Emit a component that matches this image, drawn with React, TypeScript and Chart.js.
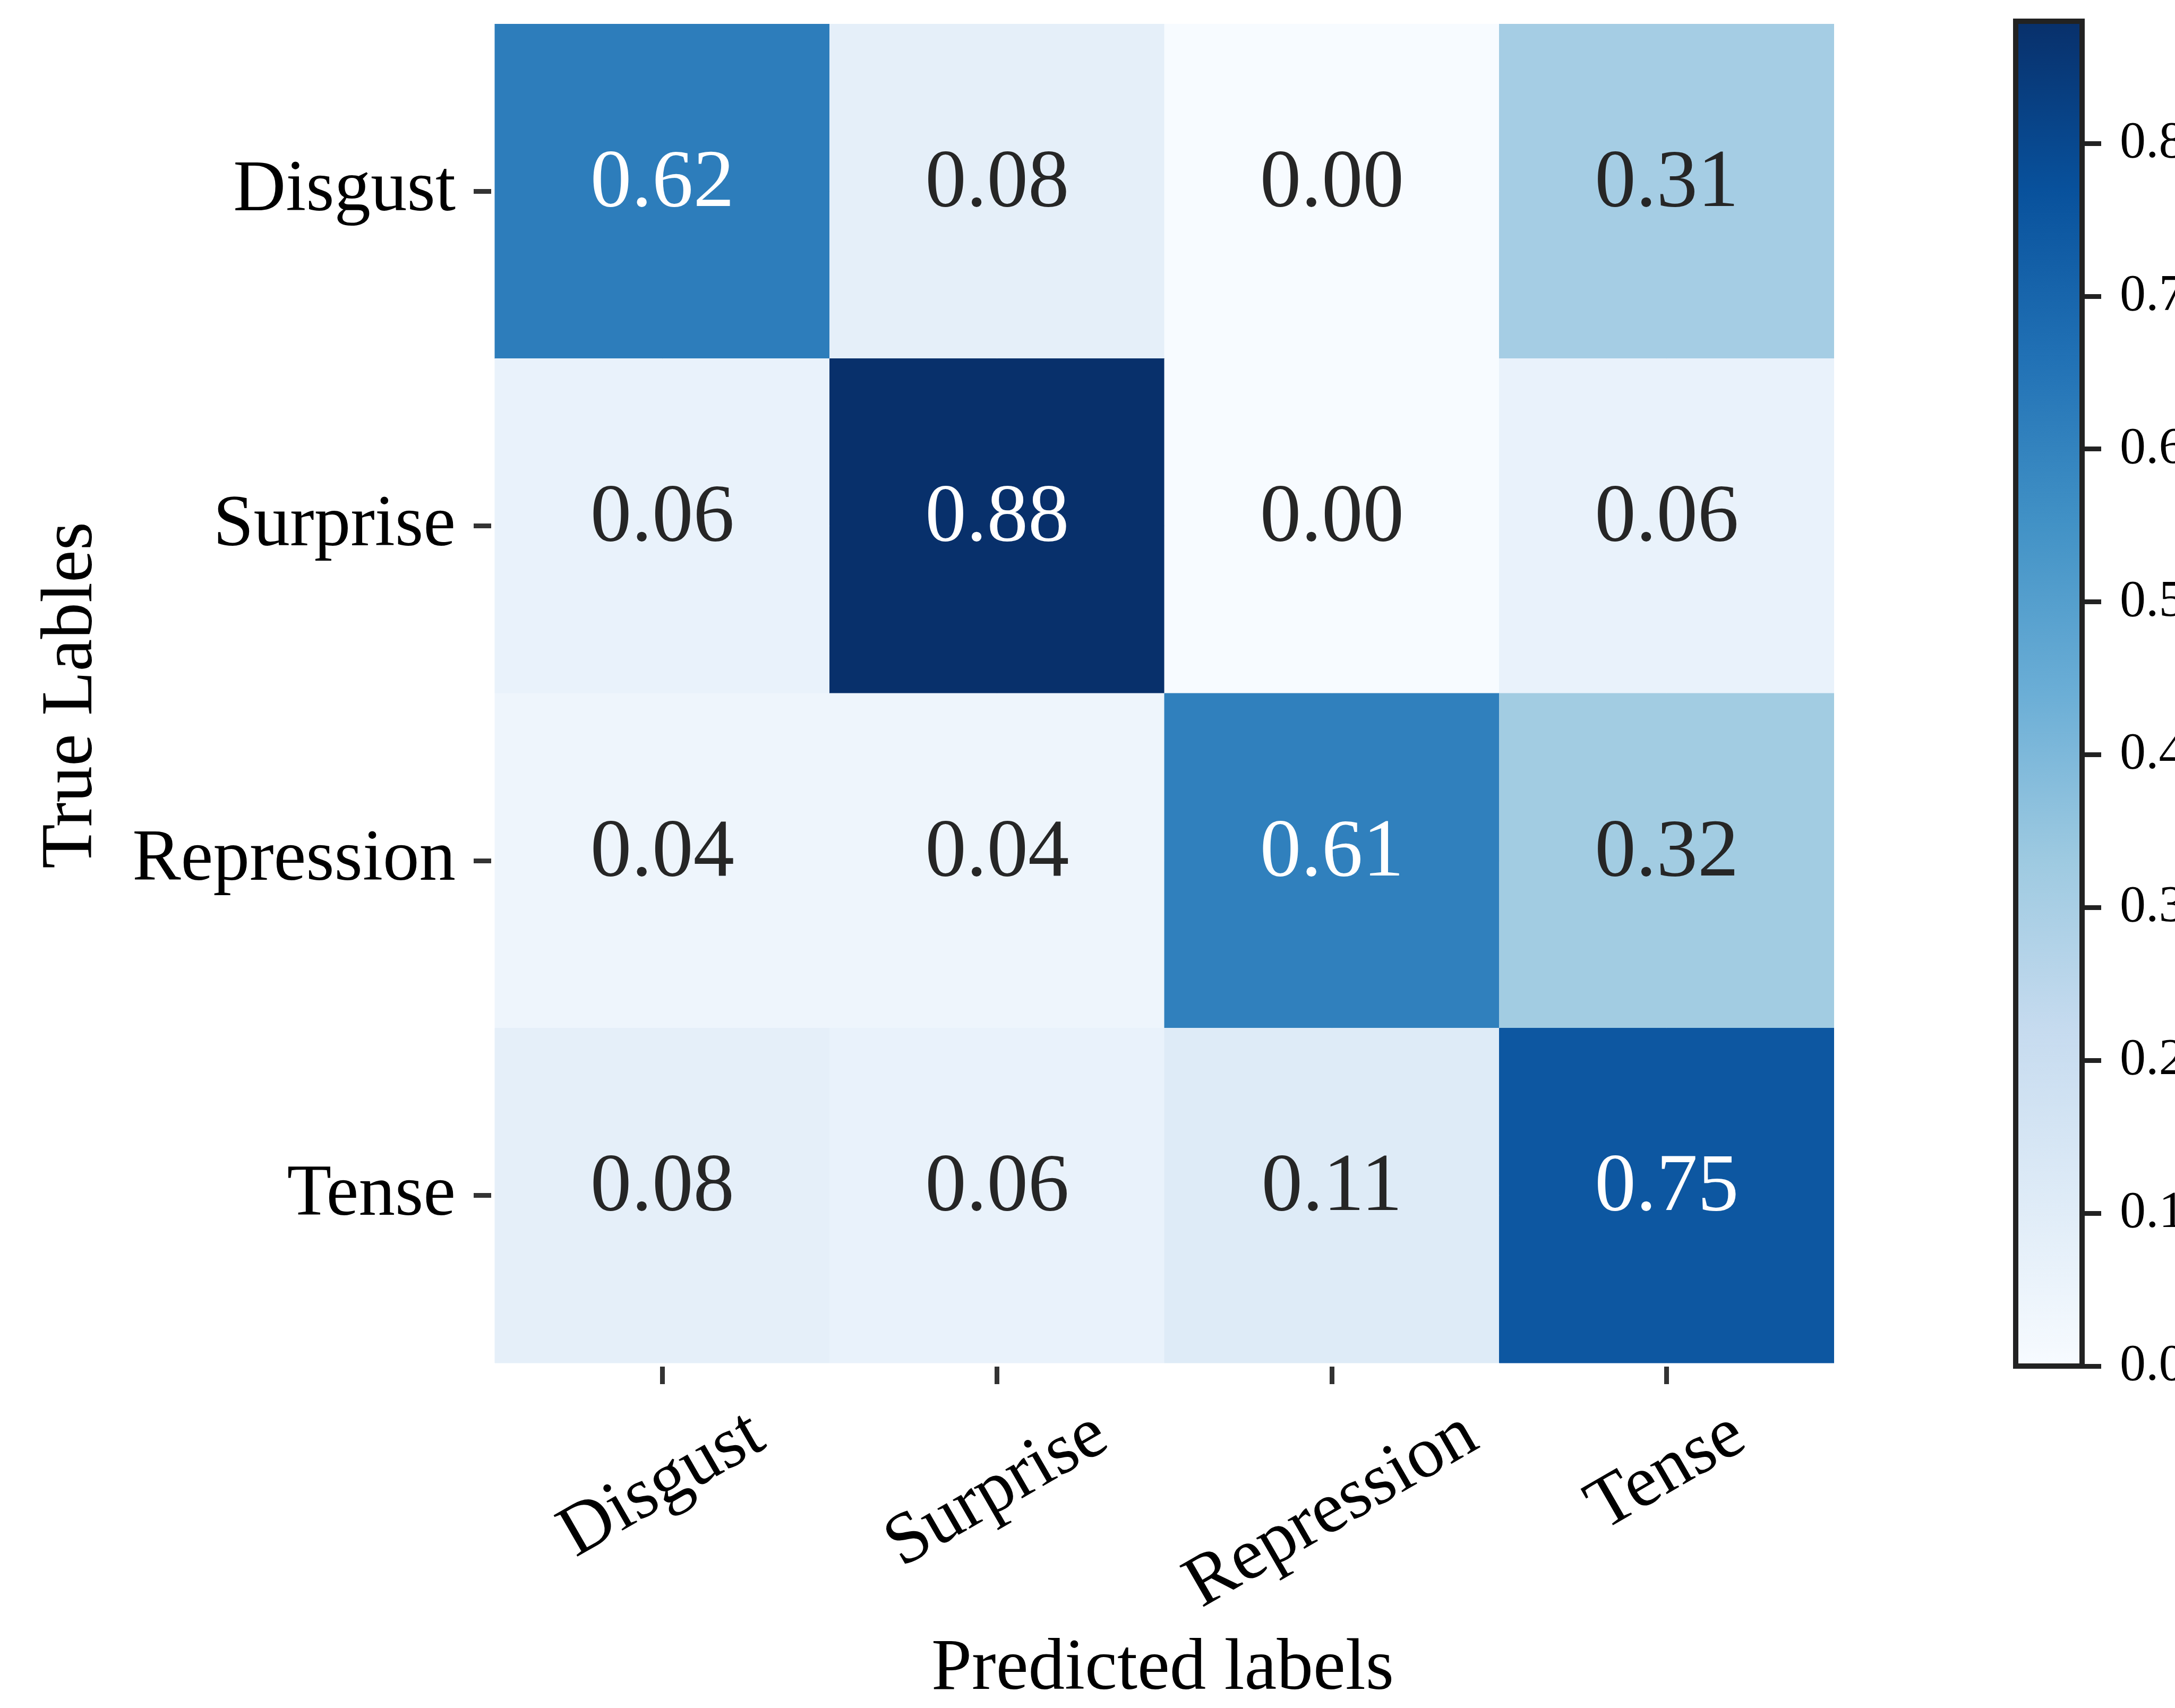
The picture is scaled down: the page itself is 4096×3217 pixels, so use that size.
import React, { useEffect, useRef } from 'react';
import { Chart, registerables } from 'chart.js';

Chart.register(...registerables);

// ---------- data ----------
const predictedLabels = ['Disgust', 'Surprise', 'Repression', 'Tense'];
const trueLabels = ['Disgust', 'Surprise', 'Repression', 'Tense'];

const disgustRow = [0.62, 0.08, 0.0, 0.31];
const surpriseRow = [0.06, 0.88, 0.0, 0.06];
const repressionRow = [0.04, 0.04, 0.61, 0.32];
const tenseRow = [0.08, 0.06, 0.11, 0.75];

const colorbarTicks = [0.0, 0.1, 0.2, 0.3, 0.4, 0.5, 0.6, 0.7, 0.8];

const xTitle = 'Predicted labels';
const yTitle = 'True Lables';

// matplotlib "Blues" colormap anchor colours
const BLUES = ['#f7fbff', '#deebf7', '#c6dbef', '#9ecae1', '#6baed6', '#4292c6', '#2171b5', '#08519c', '#08306b'];

// ---------- helpers ----------
const matrix = [disgustRow, surpriseRow, repressionRow, tenseRow];
const allValues = matrix.flat();
const vmin = Math.min(...allValues);
const vmax = Math.max(...allValues);

const FONT = "'Liberation Serif', 'Times New Roman', Times, serif";
const LABEL_SIZE = 137;
const VALUE_SIZE = 155;
const CB_SIZE = 98;

function hexToRgb(h: string): number[] {
  const n = parseInt(h.slice(1), 16);
  return [(n >> 16) & 255, (n >> 8) & 255, n & 255];
}
const BLUES_RGB = BLUES.map(hexToRgb);

function bluesRgb(t: number): number[] {
  const tt = Math.max(0, Math.min(1, t));
  const s = tt * (BLUES_RGB.length - 1);
  const i = Math.min(BLUES_RGB.length - 2, Math.floor(s));
  const f = s - i;
  const a = BLUES_RGB[i];
  const b = BLUES_RGB[i + 1];
  return [0, 1, 2].map((k) => Math.round(a[k] + (b[k] - a[k]) * f));
}
function colorFor(v: number): string {
  const [r, g, b] = bluesRgb((v - vmin) / (vmax - vmin));
  return `rgb(${r},${g},${b})`;
}
function textColorFor(v: number): string {
  const rgb = bluesRgb((v - vmin) / (vmax - vmin)).map((c) => {
    const x = c / 255;
    return x <= 0.03928 ? x / 12.92 : Math.pow((x + 0.055) / 1.055, 2.4);
  });
  const lum = 0.2126 * rgb[0] + 0.7152 * rgb[1] + 0.0722 * rgb[2];
  return lum > 0.408 ? '#262626' : '#ffffff';
}

const cells = matrix.flatMap((row, r) => row.map((v, c) => ({ x: c, y: r, v })));

// ---------- layout constants (px) ----------
const W = 4096;
const H = 3217;
const HEAT_W = 3600;
const CB_W = W - HEAT_W;
const GAP_PX = 7;
const CELL_PX = 630.5;
const GAP_UNITS = GAP_PX / CELL_PX;

function zeroPadding(s: any) {
  s.paddingLeft = 0;
  s.paddingRight = 0;
  s.paddingTop = 0;
  s.paddingBottom = 0;
}

const valueLabelPlugin = {
  id: 'valueLabels',
  afterDatasetsDraw(chart: any) {
    const meta = chart.getDatasetMeta(0);
    const ctx = chart.ctx;
    ctx.save();
    ctx.font = `${VALUE_SIZE}px ${FONT}`;
    ctx.textAlign = 'center';
    ctx.textBaseline = 'middle';
    meta.data.forEach((pt: any, i: number) => {
      const cell = cells[i];
      ctx.fillStyle = textColorFor(cell.v);
      ctx.fillText(cell.v.toFixed(2), pt.x, pt.y - 13);
    });
    ctx.restore();
  },
};

const xLabelPlugin = {
  id: 'rotatedXLabels',
  afterDraw(chart: any) {
    const xs = chart.scales.x;
    const ctx = chart.ctx;
    const th = (30 * Math.PI) / 180;
    const top = xs.top + 60;
    ctx.save();
    ctx.font = `${LABEL_SIZE}px ${FONT}`;
    ctx.fillStyle = '#000';
    ctx.textAlign = 'center';
    ctx.textBaseline = 'middle';
    xs.ticks.forEach((t: any, i: number) => {
      const label = predictedLabels[t.value];
      const px = xs.getPixelForTick(i);
      const w = ctx.measureText(label).width;
      const bh = w * Math.sin(th) + LABEL_SIZE * Math.cos(th);
      ctx.save();
      ctx.translate(px, top + bh / 2);
      ctx.rotate(-th);
      ctx.fillText(label, 0, 0);
      ctx.restore();
    });
    ctx.restore();
  },
};

const outlinePlugin = {
  id: 'cbOutline',
  afterDatasetsDraw(chart: any) {
    const a = chart.chartArea;
    const ctx = chart.ctx;
    ctx.save();
    ctx.strokeStyle = '#222';
    ctx.lineWidth = 10;
    ctx.strokeRect(a.left, a.top, a.right - a.left, a.bottom - a.top);
    ctx.restore();
  },
};

export default function App() {
  const heatRef = useRef<HTMLCanvasElement | null>(null);
  const cbRef = useRef<HTMLCanvasElement | null>(null);

  useEffect(() => {
    document.body.style.margin = '0';
    if (!heatRef.current || !cbRef.current) return;

    const heat = new Chart(heatRef.current, {
      type: 'scatter',
      data: {
        datasets: [
          {
            data: cells as any,
            pointStyle: 'rect',
            radius: (ctx: any) => {
              const xs = ctx.chart.scales.x;
              const ys = ctx.chart.scales.y;
              if (!xs || !ys) return 0;
              const w = Math.abs(xs.getPixelForValue(1) - xs.getPixelForValue(0));
              const h = Math.abs(ys.getPixelForValue(1) - ys.getPixelForValue(0));
              const side = Math.min(w, h);
              return isFinite(side) && side > 0 ? side / Math.SQRT2 : 0;
            },
            hoverRadius: 0,
            backgroundColor: (ctx: any) => (ctx.raw ? colorFor(ctx.raw.v) : BLUES[0]),
            borderColor: (ctx: any) => (ctx.raw ? colorFor(ctx.raw.v) : BLUES[0]),
            borderWidth: 1,
          } as any,
        ],
      },
      options: {
        responsive: false,
        animation: false,
        devicePixelRatio: 1,
        events: [],
        layout: { padding: { top: 45, right: HEAT_W - (925 + CELL_PX * 4 + GAP_PX), left: 0, bottom: 0 }, autoPadding: false },
        plugins: { legend: { display: false }, tooltip: { enabled: false } },
        scales: {
          x: {
            type: 'linear',
            min: -0.5 - GAP_UNITS,
            max: 3.5,
            afterBuildTicks: (s: any) => {
              s.ticks = predictedLabels.map((_, i) => ({ value: i }));
            },
            afterFit: (s: any) => {
              s.height = H - 2574;
              zeroPadding(s);
            },
            ticks: { display: false },
            grid: { drawOnChartArea: false, drawTicks: true, tickLength: 33, tickWidth: 9, tickColor: '#333' },
            border: { display: false },
            title: {
              display: true,
              text: xTitle,
              color: '#000',
              font: { family: FONT, size: LABEL_SIZE, lineHeight: 1 },
              padding: { top: 0, bottom: 3.5 },
            },
          },
          y: {
            type: 'linear',
            reverse: true,
            min: -0.5,
            max: 3.5 + GAP_UNITS,
            afterBuildTicks: (s: any) => {
              s.ticks = trueLabels.map((_, i) => ({ value: i }));
            },
            afterFit: (s: any) => {
              s.width = 925;
              zeroPadding(s);
            },
            ticks: {
              autoSkip: false,
              callback: (v: any) => trueLabels[Number(v)],
              color: '#000',
              font: { family: FONT, size: LABEL_SIZE },
              padding: 34,
            },
            grid: { drawOnChartArea: false, drawTicks: true, tickLength: 33, tickWidth: 9, tickColor: '#333' },
            border: { display: false },
            title: {
              display: true,
              text: yTitle,
              color: '#000',
              font: { family: FONT, size: LABEL_SIZE, lineHeight: 1 },
              padding: { top: 67.5, bottom: 0 },
            },
          },
        },
      } as any,
      plugins: [valueLabelPlugin, xLabelPlugin],
    });

    const cb = new Chart(cbRef.current, {
      type: 'bar',
      data: {
        labels: ['scale'],
        datasets: [
          {
            data: [vmax],
            backgroundColor: (ctx: any) => {
              const chart = ctx.chart;
              const ys = chart.scales.y;
              if (!chart.chartArea || !ys) return BLUES[0];
              const y0 = ys.getPixelForValue(vmin);
              const y1 = ys.getPixelForValue(vmax);
              if (!isFinite(y0) || !isFinite(y1)) return BLUES[0];
              const g = chart.ctx.createLinearGradient(0, y0, 0, y1);
              BLUES.forEach((c, i) => g.addColorStop(i / (BLUES.length - 1), c));
              return g;
            },
            borderWidth: 0,
            barPercentage: 1,
            categoryPercentage: 1,
            inflateAmount: 0,
          } as any,
        ],
      },
      options: {
        responsive: false,
        animation: false,
        devicePixelRatio: 1,
        events: [],
        layout: { padding: { left: 3796 - HEAT_W, top: 40, right: 0, bottom: H - 2573 }, autoPadding: false },
        plugins: { legend: { display: false }, tooltip: { enabled: false } },
        scales: {
          x: { display: false },
          y: {
            position: 'right',
            min: vmin,
            max: vmax,
            afterBuildTicks: (s: any) => {
              s.ticks = colorbarTicks.map((v) => ({ value: v }));
            },
            afterFit: (s: any) => {
              s.width = W - 3921;
              zeroPadding(s);
            },
            ticks: {
              autoSkip: false,
              callback: (v: any) => Number(v).toFixed(1),
              color: '#000',
              font: { family: FONT, size: CB_SIZE },
              padding: 35,
            },
            grid: { drawOnChartArea: false, drawTicks: true, tickLength: 36, tickWidth: 9, tickColor: '#222' },
            border: { display: false },
          },
        },
      } as any,
      plugins: [outlinePlugin],
    });

    return () => {
      heat.destroy();
      cb.destroy();
    };
  }, []);

  return (
    <div style={{ position: 'relative', width: W, height: H, overflow: 'hidden', background: '#fff' }}>
      <canvas
        ref={heatRef}
        width={HEAT_W}
        height={H}
        style={{ position: 'absolute', left: 0, top: 0, width: HEAT_W, height: H }}
      />
      <canvas
        ref={cbRef}
        width={CB_W}
        height={H}
        style={{ position: 'absolute', left: HEAT_W, top: 0, width: CB_W, height: H }}
      />
    </div>
  );
}
